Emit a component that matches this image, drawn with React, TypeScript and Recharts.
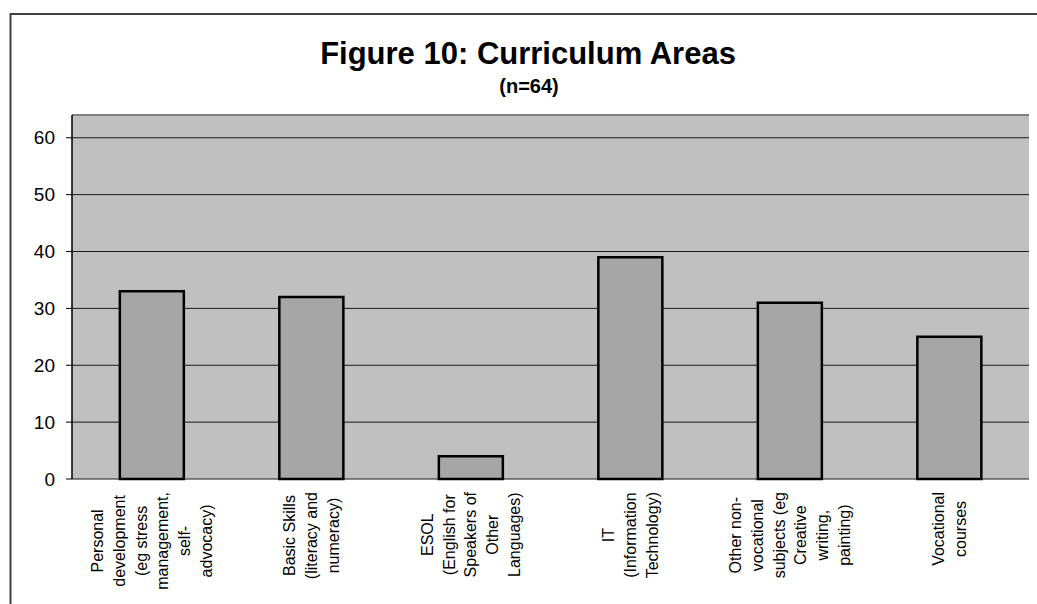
import { BarChart, Bar, XAxis, YAxis, CartesianGrid, ReferenceLine } from 'recharts'

const categories = [
  'Personal development (eg stress management, self-advocacy)',
  'Basic Skills (literacy and numeracy)',
  'ESOL (English for Speakers of Other Languages)',
  'IT (Information Technology)',
  'Other non-vocational subjects (eg Creative writing, painting)',
  'Vocational courses',
]

// how Excel wrapped each category label
const categoryLines = [
  ['Personal', 'development', '(eg stress', 'management,', 'self-', 'advocacy)'],
  ['Basic Skills', '(literacy and', 'numeracy)'],
  ['ESOL', '(English for', 'Speakers of', 'Other', 'Languages)'],
  ['IT', '(Information', 'Technology)'],
  ['Other non-', 'vocational', 'subjects (eg', 'Creative', 'writing,', 'painting)'],
  ['Vocational', 'courses'],
]

const counts = [33, 32, 4, 39, 31, 25]
const yTicks = [0, 10, 20, 30, 40, 50, 60]
const edgeTicks = [0, 1, 2, 3, 4, 5, 6]

const data = categories.map((name, i) => ({ name, value: counts[i] }))

const FONT = '"Liberation Sans", Arial, Helvetica, sans-serif'
const LABEL_SIZE = 16
const LINE_H = 21.8

let ctx: CanvasRenderingContext2D | null = null
function textWidth(s: string) {
  if (!ctx) {
    ctx = document.createElement('canvas').getContext('2d')
    if (ctx) ctx.font = `${LABEL_SIZE}px ${FONT}`
  }
  return ctx ? ctx.measureText(s).width : s.length * LABEL_SIZE * 0.5
}

function CategoryTick(props: any) {
  const { x, y, payload } = props
  const idx = props.index ?? categories.indexOf(payload.value)
  const lines = categoryLines[idx] || [String(payload.value)]
  const maxW = Math.max(...lines.map(textWidth))
  const cy = y + maxW / 2
  const n = lines.length
  return (
    <g transform={`rotate(-90, ${x}, ${cy})`}>
      {lines.map((ln, i) => (
        <text
          key={i}
          x={x}
          y={cy + (i - (n - 1) / 2) * LINE_H + LABEL_SIZE * 0.36}
          textAnchor="middle"
          fontSize={LABEL_SIZE}
          fontFamily={FONT}
          fill="#000"
        >
          {ln}
        </text>
      ))}
    </g>
  )
}

export default function App() {
  return (
    <div style={{ position: 'fixed', left: 0, top: 0, width: 1037, height: 604, background: '#fff' }}>
      <svg width={1037} height={604} style={{ position: 'absolute', left: 0, top: 0 }}>
        <line x1={10.5} y1={14} x2={1037} y2={14} stroke="#404040" strokeWidth={2} />
        <line x1={10.5} y1={13} x2={10.5} y2={604} stroke="#404040" strokeWidth={2} />
        <text x={528} y={64} textAnchor="middle" fontFamily={FONT} fontWeight="bold" fontSize={31} fill="#000">
          Figure 10: Curriculum Areas
        </text>
        <text x={529} y={93} textAnchor="middle" fontFamily={FONT} fontWeight="bold" fontSize={20} fill="#000">
          (n=64)
        </text>
      </svg>
      <div style={{ position: 'absolute', left: 0, top: 0 }}>
        <BarChart
          width={1037}
          height={604}
          data={data}
          margin={{ top: 115, right: 8, bottom: 0, left: 12 }}
          barCategoryGap="30%"
        >
          <CartesianGrid vertical={false} stroke="#1a1a1a" fill="#c0c0c0" fillOpacity={1} />
          <XAxis
            xAxisId="edge"
            type="number"
            domain={[0, 6]}
            ticks={edgeTicks}
            tick={false}
            tickSize={6}
            height={0}
            axisLine={{ stroke: '#000', strokeWidth: 1.5 }}
            tickLine={{ stroke: '#000' }}
          />
          <XAxis
            xAxisId="cat"
            dataKey="name"
            type="category"
            height={125}
            axisLine={false}
            tickLine={false}
            tickSize={0}
            tickMargin={13}
            interval={0}
            tick={<CategoryTick />}
          />
          <YAxis
            domain={[0, 64]}
            ticks={yTicks}
            width={60}
            tickSize={6}
            tickMargin={11}
            axisLine={{ stroke: '#000', strokeWidth: 1.5 }}
            tickLine={{ stroke: '#000' }}
            tick={{ fontSize: 19, fontFamily: FONT, fill: '#000' }}
          />
          <YAxis
            yAxisId="r"
            orientation="right"
            domain={[0, 64]}
            width={0}
            tick={false}
            tickLine={false}
            axisLine={{ stroke: '#808080', strokeWidth: 2 }}
          />
          <ReferenceLine y={64} stroke="#808080" strokeWidth={2} />
          <Bar
            dataKey="value"
            xAxisId="cat"
            fill="#a6a6a6"
            stroke="#000"
            strokeWidth={2.5}
            isAnimationActive={false}
          />
        </BarChart>
      </div>
    </div>
  )
}
